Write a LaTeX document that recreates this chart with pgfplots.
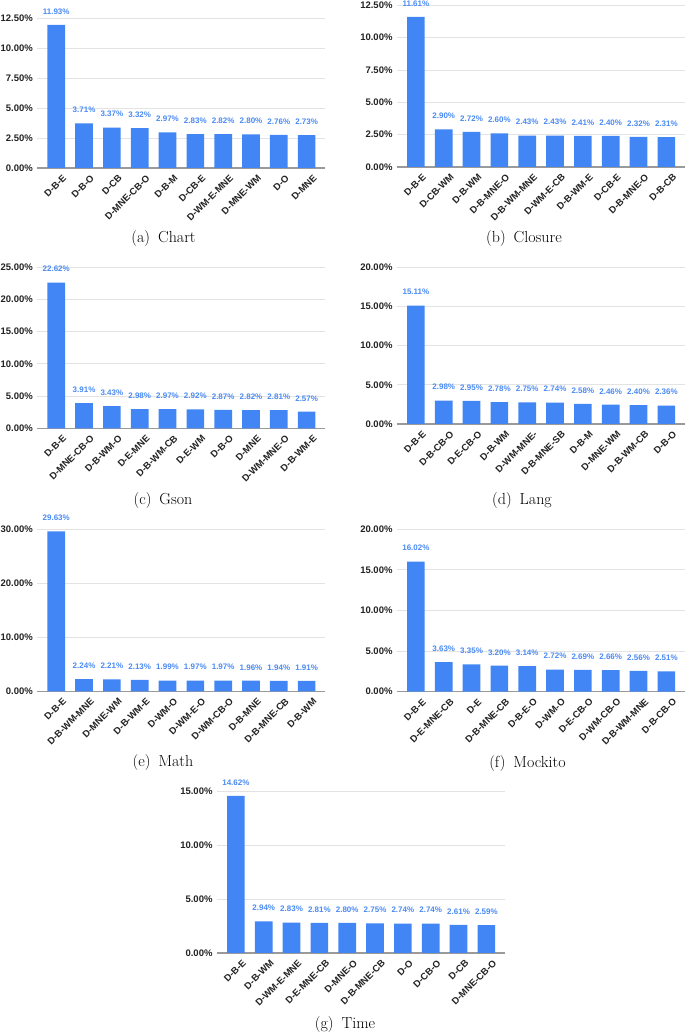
\documentclass[border=0pt]{standalone}
\usepackage{fontspec}
\usepackage{pgfplots}
\pgfplotsset{compat=1.18}
\newfontfamily\lab{Liberation Sans}
\definecolor{barc}{HTML}{4285F4}
\definecolor{valc}{HTML}{4A8AF4}
\definecolor{gridc}{HTML}{E3E3E3}
\definecolor{basec}{HTML}{9A9A9A}
\definecolor{tickc}{HTML}{222222}
\pgfplotsset{
  /pgf/number format/assume math mode=true,
  gsbar/.style={
    scale only axis, width=288.3pt,
    xmin=-0.69, xmax=9.67, ymin=0,
    axis line style={draw=none},
    major tick length=0pt, minor tick length=0pt,
    ymajorgrids, grid style={color=gridc, line width=0.9pt},
    extra y ticks={0}, extra y tick labels={},
    extra y tick style={grid style={color=basec, line width=1.2pt}},
    xtick={0,...,9},
    xticklabel style={font=\lab\bfseries\fontsize{9.5}{11}\selectfont, text=tickc, inner sep=0pt, xshift=6pt, yshift=-6pt, rotate=45, anchor=north east},
    yticklabel style={font=\lab\bfseries\fontsize{9.5}{11}\selectfont, text=tickc, inner sep=0pt, xshift=-4pt},
    yticklabel={\pgfmathprintnumber[fixed,fixed zerofill,precision=2]{\tick}\%},
    ybar, bar width=0.635,
    nodes near coords={\pgfmathprintnumber[fixed,fixed zerofill,precision=2]{\pgfplotspointmeta}\%},
    nodes near coords style={font=\lab\bfseries\fontsize{8}{9}\selectfont, text=valc, anchor=south, inner sep=0pt, yshift=10.4pt},
    clip=false,
  }
}
\begin{document}
\begin{tikzpicture}[x=1pt,y=1pt]
\path[use as bounding box] (0,0) rectangle (685,1033);
% (a) Chart
\begin{axis}[gsbar, at={(37pt,865pt)}, anchor=south west, height=150pt, ymax=12.5, ytick={0,2.5,...,12.5},
  xticklabels={D-B-E,D-B-O,D-CB,D-MNE-CB-O,D-B-M,D-CB-E,D-WM-E-MNE,D-MNE-WM,D-O,D-MNE}]
\addplot[fill=barc, draw=none] coordinates {(0,11.93) (1,3.71) (2,3.37) (3,3.32) (4,2.97) (5,2.83) (6,2.82) (7,2.80) (8,2.76) (9,2.73)};
\end{axis}
\node[anchor=base, font=\fontsize{16}{19}\selectfont] at (163.5,790.5) {(a)\enskip Chart};
% (b) Closure
\begin{axis}[gsbar, at={(396.7pt,866pt)}, anchor=south west, height=161.7pt, ymax=12.5, ytick={0,2.5,...,12.5},
  xticklabels={D-B-E,D-CB-WM,D-B-WM,D-B-MNE-O,D-B-WM-MNE,D-WM-E-CB,D-B-WM-E,D-CB-E,D-B-MNE-O,D-B-CB}]
\addplot[fill=barc, draw=none] coordinates {(0,11.61) (1,2.90) (2,2.72) (3,2.60) (4,2.43) (5,2.43) (6,2.41) (7,2.40) (8,2.32) (9,2.31)};
\end{axis}
\node[anchor=base, font=\fontsize{16}{19}\selectfont] at (524,790.5) {(b)\enskip Closure};
% (c) Gson
\begin{axis}[gsbar, at={(37pt,604.7pt)}, anchor=south west, height=161pt, ymax=25, ytick={0,5,...,25},
  xticklabels={D-B-E,D-MNE-CB-O,D-B-WM-O,D-E-MNE,D-B-WM-CB,D-E-WM,D-B-O,D-MNE,D-WM-MNE-O,D-B-WM-E}]
\addplot[fill=barc, draw=none] coordinates {(0,22.62) (1,3.91) (2,3.43) (3,2.98) (4,2.97) (5,2.92) (6,2.87) (7,2.82) (8,2.81) (9,2.57)};
\end{axis}
\node[anchor=base, font=\fontsize{16}{19}\selectfont] at (163,528) {(c)\enskip Gson};
% (d) Lang
\begin{axis}[gsbar, at={(396.7pt,609pt)}, anchor=south west, height=156.7pt, ymax=20, ytick={0,5,...,20},
  xticklabels={D-B-E,D-B-CB-O,D-E-CB-O,D-B-WM,D-WM-MNE-,D-B-MNE-SB,D-B-M,D-MNE-WM,D-B-WM-CB,D-B-O}]
\addplot[fill=barc, draw=none] coordinates {(0,15.11) (1,2.98) (2,2.95) (3,2.78) (4,2.75) (5,2.74) (6,2.58) (7,2.46) (8,2.40) (9,2.36)};
\end{axis}
\node[anchor=base, font=\fontsize{16}{19}\selectfont] at (522,528) {(d)\enskip Lang};
% (e) Math
\begin{axis}[gsbar, at={(37pt,341.7pt)}, anchor=south west, height=162pt, ymax=30, ytick={0,10,20,30},
  xticklabels={D-B-E,D-B-WM-MNE,D-MNE-WM,D-B-WM-E,D-WM-O,D-WM-E-O,D-WM-CB-O,D-B-MNE,D-B-MNE-CB,D-B-WM}]
\addplot[fill=barc, draw=none] coordinates {(0,29.63) (1,2.24) (2,2.21) (3,2.13) (4,1.99) (5,1.97) (6,1.97) (7,1.96) (8,1.94) (9,1.91)};
\end{axis}
\node[anchor=base, font=\fontsize{16}{19}\selectfont] at (163,266.3) {(e)\enskip Math};
% (f) Mockito
\begin{axis}[gsbar, at={(396.7pt,341.3pt)}, anchor=south west, height=162.4pt, ymax=20, ytick={0,5,...,20},
  xticklabels={D-B-E,D-E-MNE-CB,D-E,D-B-MNE-CB,D-B-E-O,D-WM-O,D-E-CB-O,D-WM-CB-O,D-B-WM-MNE,D-B-CB-O}]
\addplot[fill=barc, draw=none] coordinates {(0,16.02) (1,3.63) (2,3.35) (3,3.20) (4,3.14) (5,2.72) (6,2.69) (7,2.66) (8,2.56) (9,2.51)};
\end{axis}
\node[anchor=base, font=\fontsize{16}{19}\selectfont] at (527.5,265.7) {(f)\enskip Mockito};
% (g) Time
\begin{axis}[gsbar, at={(216.7pt,80pt)}, anchor=south west, height=161.3pt, ymax=15, ytick={0,5,...,15},
  xticklabels={D-B-E,D-B-WM,D-WM-E-MNE,D-E-MNE-CB,D-MNE-O,D-B-MNE-CB,D-O,D-CB-O,D-CB,D-MNE-CB-O}]
\addplot[fill=barc, draw=none] coordinates {(0,14.62) (1,2.94) (2,2.83) (3,2.81) (4,2.80) (5,2.75) (6,2.74) (7,2.74) (8,2.61) (9,2.59)};
\end{axis}
\node[anchor=base, font=\fontsize{16}{19}\selectfont] at (345,4.7) {(g)\enskip Time};
\end{tikzpicture}
\end{document}
